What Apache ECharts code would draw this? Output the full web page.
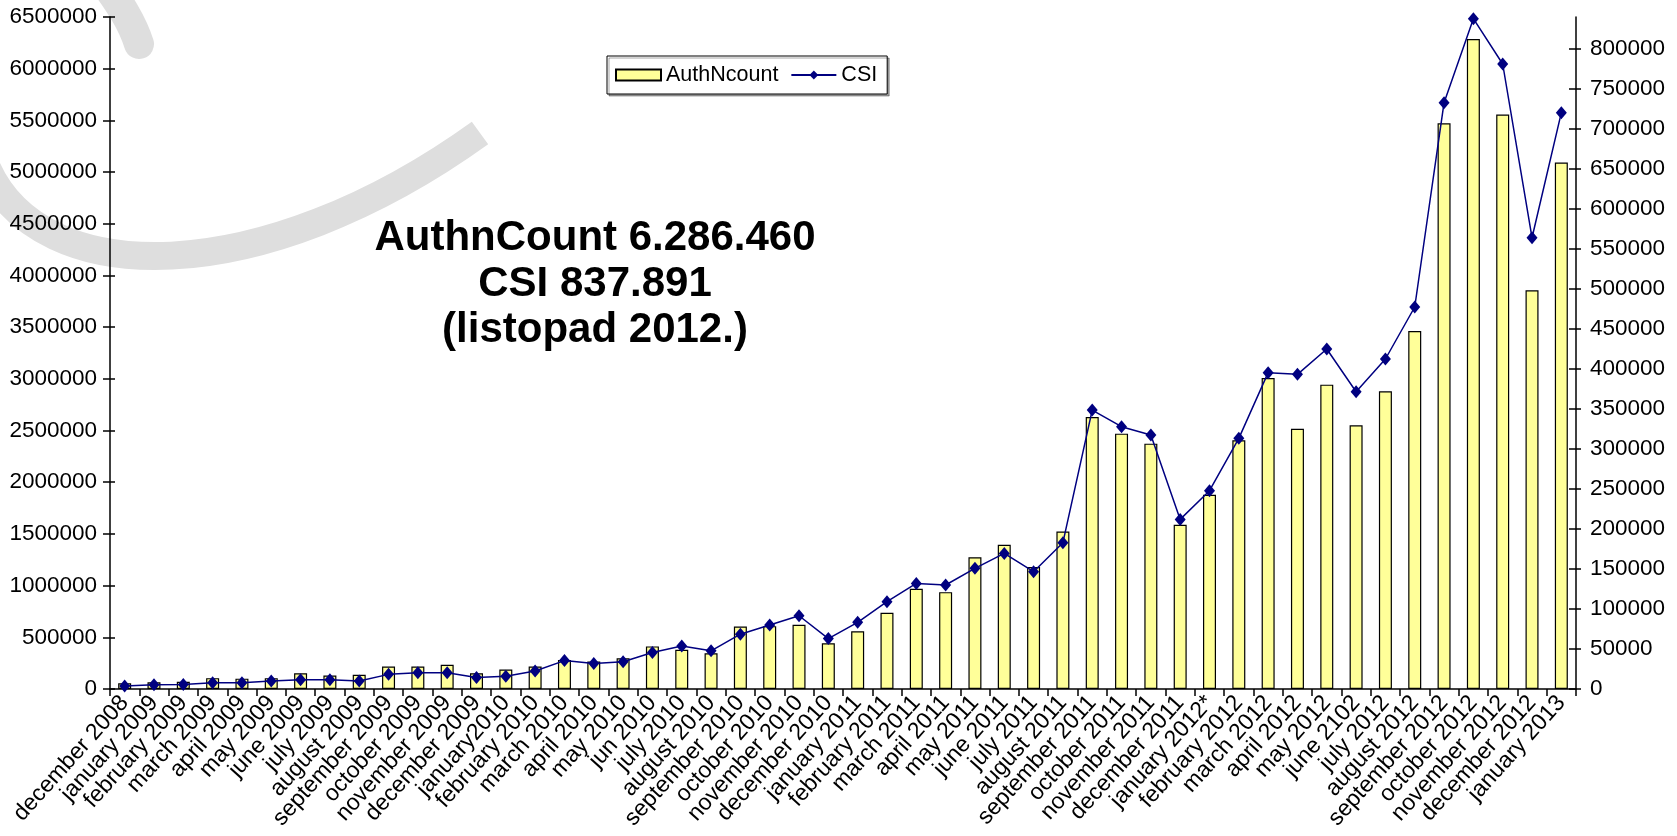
<!DOCTYPE html>
<html>
<head>
    <meta charset="utf-8"/>
    <title>AuthNcount / CSI</title>
    <script src="https://cdn.jsdelivr.net/npm/echarts@6/dist/echarts.min.js"></script>
    <style>
        html, body { margin: 0; padding: 0; background: #fff; }
        #main { width: 1677px; height: 836px; }
    </style>
</head>
<body>
<div id="main"></div>
<script type="text/javascript">
    var months = ['december 2008', 'january 2009', 'february 2009', 'march 2009', 'april 2009', 'may 2009',
        'june 2009', 'july 2009', 'august 2009', 'september 2009', 'october 2009', 'november 2009',
        'december 2009', 'january2010', 'february 2010', 'march 2010', 'april 2010', 'may 2010',
        'jun 2010', 'july 2010', 'august 2010', 'september 2010', 'october 2010', 'november 2010',
        'december 2010', 'january 2011', 'february 2011', 'march 2011', 'april 2011', 'may 2011',
        'june 2011', 'july 2011', 'august 2011', 'september 2011', 'october 2011', 'november 2011',
        'december 2011', 'january 2012*', 'february 2012', 'march 2012', 'april 2012', 'may 2012',
        'june 2102', 'july 2012', 'august 2012', 'september 2012', 'october 2012', 'november 2012',
        'december 2012', 'january 2013'];

    var authNcount = [56000, 66000, 70000, 105000, 100000, 105000,
        153000, 131000, 137000, 218000, 218000, 234000,
        153000, 189000, 218000, 280000, 266000, 298000,
        412000, 379000, 346000, 605000, 608000, 622000,
        443000, 559000, 737000, 969000, 937000, 1275000,
        1395000, 1179000, 1524000, 2630000, 2470000, 2373000,
        1589000, 1879000, 2405000, 3008000, 2518000, 2944000,
        2550000, 2879000, 3463000, 5472000, 6286460, 5556000,
        3856000, 5092000];

    var csi = [3800, 5400, 5600, 7900, 7900, 10000,
        11600, 11700, 10000, 18300, 20400, 20400,
        14500, 15800, 22500, 35500, 32000, 34000,
        45600, 53700, 47700, 68500, 80000, 91600,
        63000, 83300, 109100, 132000, 130000, 150800,
        169500, 146600, 182900, 348700, 327900, 317500,
        212000, 247900, 313300, 395400, 393300, 425000,
        371600, 412500, 477500, 732900, 837891, 781250,
        564100, 720400];

    var rightTicks = [0, 50000, 100000, 150000, 200000, 250000, 300000, 350000, 400000,
        450000, 500000, 550000, 600000, 650000, 700000, 750000, 800000];

    var noteLines = ['AuthnCount 6.286.460', 'CSI 837.891', '(listopad 2012.)'];

    var font = "'Liberation Sans', Arial, sans-serif";
    var black = '#000';
    var plain = function (v) { return String(v); };

    var myChart = echarts.init(document.getElementById('main'));

    var option = {
        backgroundColor: '#fff',
        animation: false,
        textStyle: { fontFamily: font, color: black },
        grid: {
            left: 110, right: 101, top: 17, bottom: 147,
            containLabel: false,
            outerBoundsMode: 'none'
        },
        legend: {
            left: 607,
            top: 56,
            padding: [8, 10, 8, 8],
            itemGap: 12,
            itemWidth: 45,
            itemHeight: 11,
            borderColor: black,
            borderWidth: 1,
            shadowColor: 'rgba(0,0,0,0.35)',
            shadowOffsetX: 2,
            shadowOffsetY: 2,
            backgroundColor: '#fff',
            textStyle: { fontSize: 21.5, fontFamily: font, color: black },
            data: [{ name: 'AuthNcount', icon: 'rect' }, 'CSI']
        },
        graphic: [
            {
                type: 'bezierCurve',
                z: -10,
                shape: { x1: -14, y1: 166, cpx1: 40, cpy1: 292, cpx2: 262, cpy2: 290, x2: 480, y2: 133 },
                style: { stroke: '#dedede', lineWidth: 28, fill: null }
            },
            {
                type: 'bezierCurve',
                z: -10,
                shape: { x1: 104, y1: -18, cpx1: 120, cpy1: 4, cpx2: 132, cpy2: 22, x2: 139, y2: 44 },
                style: { stroke: '#dedede', lineWidth: 30, fill: null, lineCap: 'round' }
            },
            {
                type: 'text',
                z: 100,
                x: 595,
                y: 215,
                style: {
                    text: noteLines.join('\n'),
                    font: 'bold 42px ' + font,
                    fill: black,
                    align: 'center',
                    lineHeight: 46
                }
            }
        ],
        xAxis: {
            type: 'category',
            data: months,
            boundaryGap: true,
            axisLine: { lineStyle: { color: black, width: 1.5 } },
            axisTick: { show: true, interval: 0, length: 7, lineStyle: { color: black, width: 1.5 } },
            axisLabel: {
                interval: 0,
                rotate: 48,
                margin: 10,
                fontSize: 23,
                fontFamily: font,
                color: black
            },
            splitLine: { show: false }
        },
        yAxis: [
            {
                type: 'value',
                position: 'left',
                min: 0,
                max: 6500000,
                interval: 500000,
                axisLine: { show: true, lineStyle: { color: black, width: 1.5 } },
                axisTick: { show: true, length: 7, lineStyle: { color: black, width: 1.5 } },
                axisLabel: { fontSize: 22.5, fontFamily: font, color: black, margin: 13, formatter: plain },
                splitLine: { show: false }
            },
            {
                type: 'value',
                position: 'right',
                min: 0,
                max: 840000,
                interval: 50000,
                axisLine: { show: true, lineStyle: { color: black, width: 1.5 } },
                axisTick: { show: true, length: 5, customValues: rightTicks, lineStyle: { color: black, width: 1.5 } },
                axisLabel: { fontSize: 22.5, fontFamily: font, color: black, margin: 14, customValues: rightTicks, formatter: plain },
                splitLine: { show: false }
            },
            {
                // inner half of the crossing ticks on the left axis
                type: 'value',
                position: 'left',
                min: 0,
                max: 6500000,
                interval: 500000,
                axisLine: { show: false },
                axisTick: { show: true, inside: true, length: 5, lineStyle: { color: black, width: 1.5 } },
                axisLabel: { show: false },
                splitLine: { show: false }
            },
            {
                // inner half of the crossing ticks on the right axis
                type: 'value',
                position: 'right',
                min: 0,
                max: 840000,
                interval: 50000,
                axisLine: { show: false },
                axisTick: { show: true, inside: true, length: 7, customValues: rightTicks, lineStyle: { color: black, width: 1.5 } },
                axisLabel: { show: false },
                splitLine: { show: false }
            }
        ],
        series: [
            {
                name: 'AuthNcount',
                type: 'bar',
                yAxisIndex: 0,
                barWidth: 13,
                data: authNcount,
                itemStyle: { color: '#FFFF99', borderColor: black, borderWidth: 1.2 }
            },
            {
                name: 'CSI',
                type: 'line',
                yAxisIndex: 1,
                data: csi,
                symbol: 'diamond',
                symbolSize: [11, 13],
                lineStyle: { color: '#000080', width: 1.5 },
                itemStyle: { color: '#000080' }
            }
        ]
    };

    myChart.setOption(option);
</script>
</body>
</html>
